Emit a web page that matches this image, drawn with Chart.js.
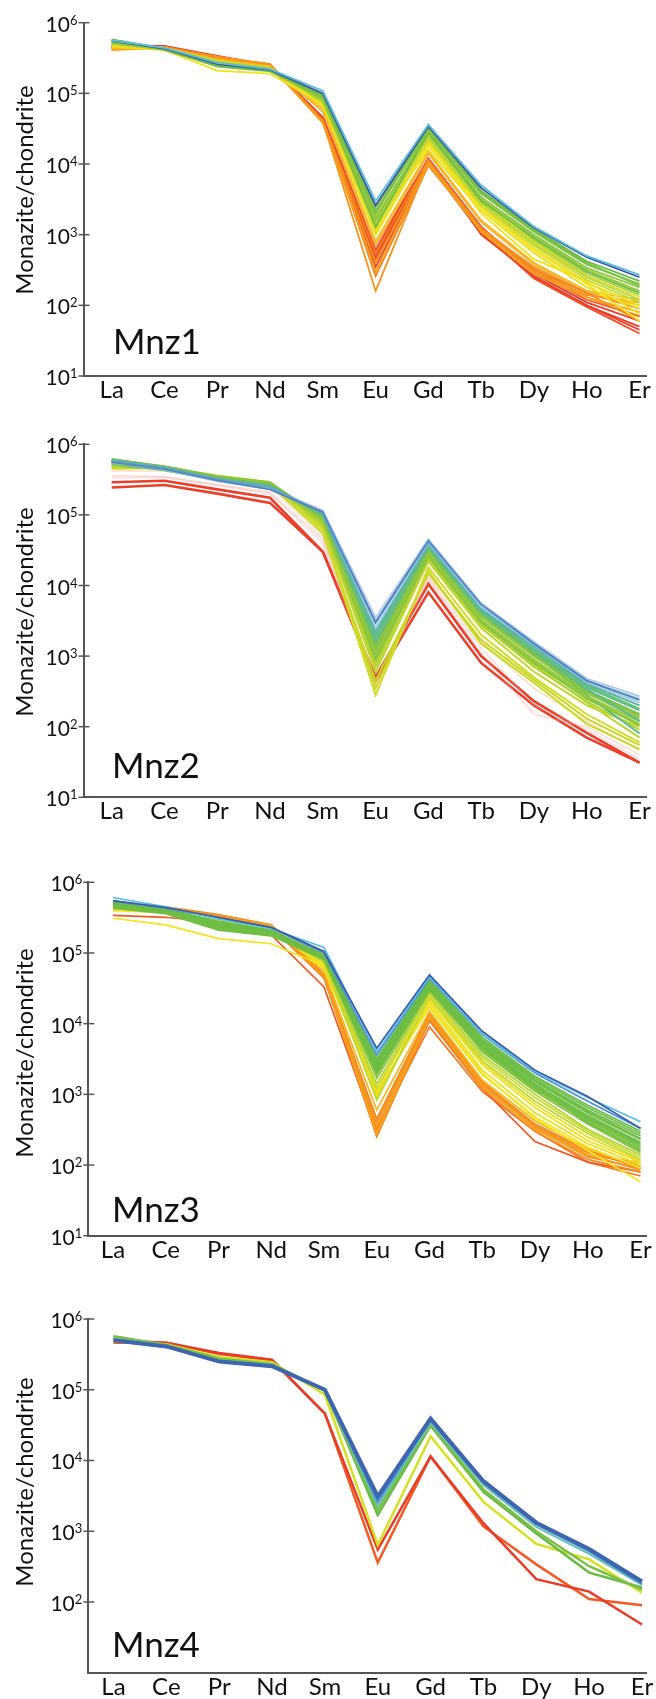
<!DOCTYPE html>
<html><head><meta charset="utf-8">
<script src="https://cdn.jsdelivr.net/npm/chart.js@4.4.1/dist/chart.umd.min.js"></script>
<style>
html,body{margin:0;padding:0;background:#fff;width:656px;height:1699px;overflow:hidden}
canvas{position:absolute;left:0}
</style></head><body>
<canvas id="c1" width="656" height="420" style="top:0px"></canvas>
<canvas id="c2" width="656" height="440" style="top:420px"></canvas>
<canvas id="c3" width="656" height="436" style="top:860px"></canvas>
<canvas id="c4" width="656" height="403" style="top:1296px"></canvas>
<script>
// ---------- data ----------
const elements = ['La','Ce','Pr','Nd','Sm','Eu','Gd','Tb','Dy','Ho','Er'];
const decadeTicks = [1e1,1e2,1e3,1e4,1e5,1e6];
const decadeExponents = ['1','2','3','4','5','6'];
const panelNames = ['Mnz1','Mnz2','Mnz3','Mnz4'];
const yAxisTitle = 'Monazite/chondrite';

// Mnz1 (La..Er)
const mnz1Values = [
  [5.6e5,4.4e5,2.7e5,2.2e5,1.08e5,3.0e3,3.6e4,5.0e3,1.3e3,5.0e2,2.7e2],
  [5.5e5,4.3e5,2.6e5,2.15e5,1.0e5,2.6e3,3.4e4,4.6e3,1.25e3,4.8e2,2.5e2],
  [5.8e5,4.3e5,2.5e5,2.1e5,9.5e4,2.5e3,3.5e4,4.2e3,1.2e3,4.2e2,2.2e2],
  [5.5e5,4.3e5,2.55e5,2.15e5,9.2e4,2.2e3,3.3e4,4.0e3,1.15e3,4.0e2,1.9e2],
  [5.6e5,4.2e5,2.4e5,2.05e5,9.0e4,2.0e3,3.2e4,3.8e3,1.1e3,3.8e2,2.0e2],
  [5.4e5,4.1e5,2.45e5,2.1e5,8.5e4,1.6e3,3.0e4,3.4e3,1.0e3,3.4e2,1.8e2],
  [5.7e5,4.3e5,2.6e5,2.2e5,8.8e4,1.3e3,2.8e4,3.0e3,9.0e2,3.0e2,1.5e2],
  [5.1e5,4.2e5,2.65e5,2.2e5,8.2e4,1.7e3,2.7e4,3.3e3,9.5e2,3.2e2,1.6e2],
  [5.2e5,4.3e5,2.7e5,2.2e5,8.0e4,1.8e3,2.6e4,3.2e3,8.5e2,2.8e2,1.4e2],
  [5.0e5,4.2e5,2.8e5,2.25e5,7.5e4,1.5e3,2.4e4,2.8e3,7.5e2,2.5e2,1.2e2],
  [4.9e5,4.3e5,2.75e5,2.25e5,7.8e4,1.3e3,2.3e4,2.9e3,8.0e2,2.6e2,1.3e2],
  [5.3e5,4.4e5,2.9e5,2.3e5,8.0e4,1.2e3,2.2e4,2.6e3,7.0e2,2.3e2,1.1e2],
  [4.7e5,4.4e5,2.8e5,2.3e5,7.2e4,1.0e3,2.0e4,2.5e3,6.5e2,2.1e2,1.0e2],
  [4.6e5,4.1e5,2.1e5,1.9e5,7.0e4,1.0e3,2.0e4,2.0e3,4.5e2,2.2e2,7.5e1],
  [4.8e5,4.3e5,2.9e5,2.3e5,7.0e4,1.1e3,1.8e4,2.4e3,6.0e2,2.0e2,6.0e1],
  [5.0e5,4.4e5,2.6e5,2.2e5,6.5e4,1.4e3,1.6e4,2.2e3,5.5e2,1.8e2,9.0e1],
  [4.3e5,4.3e5,3.0e5,2.4e5,6.0e4,8.0e2,1.5e4,1.6e3,4.0e2,1.6e2,1.0e2],
  [4.5e5,4.4e5,3.0e5,2.4e5,5.5e4,7.0e2,1.4e4,1.5e3,3.8e2,1.6e2,1.2e2],
  [4.2e5,4.5e5,3.2e5,2.6e5,4.0e4,4.0e2,1.1e4,1.2e3,3.0e2,1.4e2,1.1e2],
  [4.1e5,4.4e5,3.1e5,2.5e5,3.8e4,3.0e2,1.0e4,1.1e3,2.8e2,1.3e2,8.0e1],
  [4.3e5,4.5e5,3.1e5,2.55e5,4.2e4,2.6e2,9.5e3,1.15e3,3.2e2,1.5e2,9.0e1],
  [4.4e5,4.4e5,3.3e5,2.6e5,4.0e4,1.6e2,1.05e4,1.2e3,3.5e2,1.5e2,6.0e1],
  [4.4e5,4.6e5,3.3e5,2.5e5,4.2e4,5.5e2,1.15e4,1.25e3,3.3e2,1.3e2,7.0e1],
  [4.8e5,4.7e5,3.4e5,2.5e5,4.5e4,6.0e2,1.2e4,1.3e3,2.8e2,1.1e2,6.0e1],
  [4.7e5,4.6e5,3.3e5,2.4e5,4.3e4,5.0e2,1.1e4,1.1e3,2.4e2,9.5e1,4.0e1],
  [4.6e5,4.6e5,3.3e5,2.45e5,4.6e4,7.0e2,1.15e4,1.0e3,2.6e2,1.0e2,5.0e1],
  [4.6e5,4.5e5,3.2e5,2.45e5,4.1e4,3.5e2,1.0e4,1.05e3,2.5e2,1.0e2,4.5e1],
  [4.5e5,4.5e5,3.2e5,2.4e5,4.4e4,4.5e2,1.05e4,1.2e3,3.0e2,1.2e2,7.0e1]
];
const mnz1Colors = ['#5bbcd8','#3b58a7','#6cbd45','#7cc242','#76c043','#8cc63f','#6cbd45','#9bcb3b','#a6cd3a','#b5d334','#d9df24','#c7d92e',
  '#eee01e','#f2e21c','#f4e31a','#e9de22','#f9b81b','#fbb040','#f7941d','#f8a21c','#f58220','#f7941d','#f47b20','#e8382a','#ee4e24','#e8402a','#ef4136','#f15a24'];

// Mnz2
const mnz2Values = [
  [5.8e5,4.6e5,3.2e5,2.4e5,1.15e5,3.5e3,4.5e4,5.6e3,1.6e3,4.8e2,2.7e2],
  [5.6e5,4.5e5,3.1e5,2.3e5,1.1e5,3.0e3,4.3e4,5.4e3,1.5e3,4.5e2,2.4e2],
  [5.5e5,4.4e5,3.0e5,2.3e5,1.1e5,2.6e3,4.0e4,5.0e3,1.45e3,4.4e2,2.5e2],
  [5.6e5,4.5e5,3.2e5,2.5e5,1.05e5,2.4e3,3.9e4,4.9e3,1.4e3,4.2e2,2.2e2],
  [6.0e5,4.7e5,3.2e5,2.5e5,1.05e5,2.2e3,3.8e4,4.6e3,1.35e3,4.0e2,2.0e2],
  [5.8e5,4.7e5,3.3e5,2.6e5,1.0e5,2.0e3,3.6e4,4.4e3,1.25e3,3.8e2,1.8e2],
  [5.7e5,4.6e5,3.3e5,2.6e5,1.0e5,1.8e3,3.5e4,4.2e3,1.2e3,3.6e2,1.7e2],
  [5.9e5,4.7e5,3.3e5,2.6e5,9.8e4,1.6e3,3.4e4,4.1e3,1.15e3,3.4e2,1.2e2],
  [6.2e5,4.8e5,3.4e5,2.7e5,9.5e4,1.5e3,3.3e4,4.0e3,1.1e3,3.3e2,1.5e2],
  [5.5e5,4.6e5,3.4e5,2.7e5,9.2e4,1.4e3,3.2e4,3.8e3,1.05e3,3.2e2,1.4e2],
  [5.9e5,4.7e5,3.3e5,2.8e5,9.0e4,1.3e3,3.0e4,3.6e3,1.0e3,3.0e2,1.3e2],
  [5.4e5,4.5e5,3.4e5,2.8e5,8.5e4,1.1e3,2.8e4,3.3e3,9.0e2,2.7e2,1.2e2],
  [6.1e5,4.9e5,3.5e5,2.9e5,8.8e4,9.0e2,2.6e4,3.0e3,8.0e2,2.5e2,1.05e2],
  [5.2e5,4.3e5,3.1e5,2.5e5,9.5e4,1.2e3,3.1e4,3.8e3,1.05e3,2.8e2,8.0e1],
  [5.3e5,4.6e5,3.5e5,2.8e5,8.0e4,1.0e3,2.7e4,3.2e3,8.5e2,2.6e2,1.1e2],
  [5.0e5,4.8e5,3.6e5,2.9e5,7.5e4,8.0e2,2.4e4,2.8e3,7.0e2,2.3e2,9.0e1],
  [5.0e5,4.5e5,3.4e5,2.7e5,7.2e4,7.0e2,2.3e4,2.7e3,7.5e2,2.2e2,7.0e1],
  [4.7e5,4.7e5,3.5e5,2.8e5,7.0e4,6.0e2,2.2e4,2.5e3,6.0e2,2.0e2,1.0e2],
  [4.5e5,4.6e5,3.6e5,2.9e5,6.0e4,2.8e2,1.8e4,2.0e3,5.0e2,1.5e2,6.0e1],
  [4.6e5,4.6e5,3.5e5,2.8e5,6.5e4,3.5e2,1.6e4,1.5e3,4.2e2,1.1e2,4.8e1],
  [4.8e5,4.7e5,3.4e5,2.7e5,5.5e4,4.5e2,1.5e4,1.7e3,4.6e2,1.3e2,5.5e1],
  [4.2e5,4.2e5,3.2e5,2.5e5,5.0e4,4.0e2,1.4e4,1.6e3,3.5e2,1.2e2,4.5e1],
  [3.4e5,3.4e5,2.6e5,2.0e5,4.0e4,3.5e2,1.2e4,1.1e3,1.5e2,1.0e2,4.0e1],
  [3.6e5,3.5e5,2.7e5,2.1e5,4.5e4,4.0e2,1.3e4,1.3e3,2.0e2,9.0e1,3.5e1],
  [2.9e5,3.05e5,2.3e5,1.75e5,3.0e4,5.0e2,1.05e4,1.0e3,2.3e2,8.2e1,3.1e1],
  [2.45e5,2.65e5,2.0e5,1.48e5,3.0e4,4.5e2,8.0e3,8.0e2,2.0e2,7.0e1,3.1e1]
];
const mnz2Colors = ['rgba(110,160,210,0.55)','#4d7fbf','rgba(150,200,220,0.7)','rgba(100,170,200,0.6)','#55b6a6','#6cbf6a','#5dbb9a',
  '#60bb8c','#7dc243','#8dc63f','#8cc63f','#96c93d','#85c441','#5dbb8f','#a3cd39','#b2d235','#b9d433','#bfd630','#d2dc26','#cbd626','#c5d82a',
  'rgba(245,160,80,0.35)','rgba(240,150,140,0.35)','rgba(240,150,140,0.35)','#e8402a','#e8402a'];
const mnz2Widths = [2,2,2,2,2,2,2,2,2,2,2,2,2,2,2,2,2,2,2,2,2,1.5,1.5,1.5,2.6,2.6];

// Mnz3
const mnz3Values = [
  [5.5e5,4.4e5,3.2e5,2.3e5,1.05e5,4.5e3,4.9e4,7.8e3,2.2e3,9.3e2,3.3e2],
  [6.1e5,4.5e5,3.0e5,2.2e5,1.2e5,4.0e3,4.6e4,7.2e3,2.1e3,9.0e2,4.1e2],
  [5.4e5,4.3e5,3.1e5,2.25e5,1.0e5,3.6e3,4.4e4,7.0e3,2.0e3,8.0e2,3.3e2],
  [5.3e5,4.2e5,2.8e5,2.1e5,9.5e4,3.2e3,4.1e4,6.4e3,1.8e3,7.0e2,3.0e2],
  [5.1e5,4.1e5,2.7e5,2.05e5,9.3e4,3.0e3,3.9e4,6.0e3,1.7e3,6.5e2,2.8e2],
  [5.0e5,4.0e5,2.5e5,2.0e5,9.0e4,2.8e3,3.8e4,5.8e3,1.6e3,6.0e2,2.6e2],
  [4.9e5,3.9e5,2.4e5,1.95e5,8.7e4,2.6e3,3.6e4,5.5e3,1.55e3,5.7e2,2.4e2],
  [4.7e5,3.8e5,2.3e5,1.9e5,8.5e4,2.5e3,3.5e4,5.2e3,1.5e3,5.4e2,2.3e2],
  [4.6e5,3.75e5,2.25e5,1.85e5,8.6e4,2.3e3,3.4e4,5.0e3,1.4e3,5.0e2,2.1e2],
  [4.5e5,3.7e5,2.2e5,1.8e5,8.8e4,2.2e3,3.3e4,4.8e3,1.35e3,4.8e2,2.0e2],
  [4.4e5,3.65e5,2.15e5,1.78e5,8.2e4,2.1e3,3.1e4,4.6e3,1.28e3,4.6e2,1.9e2],
  [4.3e5,3.6e5,2.1e5,1.75e5,8.0e4,2.0e3,3.0e4,4.4e3,1.2e3,4.4e2,1.8e2],
  [4.8e5,3.9e5,2.4e5,1.95e5,9.2e4,2.4e3,3.6e4,4.6e3,1.25e3,4.0e2,1.6e2],
  [4.7e5,3.85e5,2.35e5,1.9e5,8.3e4,1.7e3,2.9e4,4.2e3,1.15e3,4.2e2,1.7e2],
  [5.2e5,4.1e5,2.6e5,2.05e5,9.0e4,1.9e3,3.2e4,4.0e3,1.1e3,3.8e2,1.5e2],
  [4.6e5,3.9e5,2.6e5,2.1e5,8.0e4,1.4e3,2.8e4,3.6e3,1.0e3,3.2e2,1.4e2],
  [4.5e5,3.8e5,2.5e5,2.0e5,7.8e4,1.2e3,2.6e4,3.3e3,9.0e2,3.0e2,1.3e2],
  [4.4e5,3.8e5,2.5e5,2.0e5,7.5e4,8.3e2,2.4e4,3.0e3,8.0e2,2.8e2,1.2e2],
  [4.3e5,3.9e5,2.6e5,2.1e5,7.2e4,9.0e2,2.3e4,2.8e3,7.2e2,2.5e2,1.15e2],
  [4.3e5,4.0e5,2.8e5,2.2e5,7.0e4,1.2e3,2.2e4,2.6e3,6.5e2,2.2e2,1.1e2],
  [4.2e5,3.9e5,2.7e5,2.2e5,6.5e4,1.0e3,2.0e4,2.2e3,5.5e2,2.0e2,1.0e2],
  [4.0e5,3.7e5,2.9e5,2.3e5,6.0e4,1.1e3,1.7e4,1.9e3,4.8e2,1.8e2,9.0e1],
  [3.1e5,2.5e5,1.6e5,1.35e5,6.5e4,1.0e3,1.8e4,2.0e3,4.5e2,1.6e2,5.8e1],
  [4.4e5,4.3e5,3.2e5,2.4e5,5.5e4,6.0e2,1.5e4,1.6e3,4.2e2,1.7e2,9.5e1],
  [4.4e5,4.4e5,3.4e5,2.45e5,4.9e4,4.0e2,1.35e4,1.45e3,3.6e2,1.5e2,1.0e2],
  [4.5e5,4.5e5,3.5e5,2.5e5,5.0e4,4.5e2,1.4e4,1.5e3,3.8e2,1.6e2,9.0e1],
  [4.3e5,4.3e5,3.3e5,2.4e5,4.7e4,2.8e2,1.25e4,1.35e3,3.2e2,1.35e2,1.1e2],
  [4.3e5,4.4e5,3.4e5,2.45e5,4.8e4,3.5e2,1.3e4,1.4e3,3.5e2,1.4e2,8.5e1],
  [4.4e5,4.4e5,3.3e5,2.4e5,4.5e4,3.0e2,1.2e4,1.3e3,3.3e2,1.3e2,9.0e1],
  [4.2e5,4.3e5,3.3e5,2.35e5,4.6e4,2.5e2,1.15e4,1.2e3,3.0e2,1.2e2,8.0e1],
  [3.4e5,3.2e5,2.7e5,1.8e5,3.3e4,2.8e2,1.1e4,1.2e3,2.15e2,1.1e2,8.0e1],
  [4.0e5,4.2e5,3.2e5,2.3e5,4.4e4,3.2e2,9.0e3,1.1e3,3.0e2,1.1e2,7.0e1]
];
const mnz3Colors = ['#3a5ba8','#5bbfe0','#4b8fcf','#6cbd45','#6cbd45','#6cbd45','#6cbd45','#72bf44','#70be45','#6cbd45','#6cbd45',
  '#78c143','#6cbd45','#8cc63f','#80c342','#b6d334','#c8da2b','#c0d72f','#e6df20','#f0e11c','#eadf1f','#f4e31a','#f6e21a',
  '#f7b51d','#f7941d','#f58220','#f8a51b','#f7931e','#f58a1f','#f68b1f','#ef5a24','#f47a20'];

// Mnz4
const mnz4Values = [
  [5.0e5,4.1e5,2.5e5,2.15e5,1.0e5,3.1e3,3.9e4,5.1e3,1.32e3,5.6e2,1.95e2],
  [5.0e5,4.0e5,2.55e5,2.2e5,9.8e4,2.6e3,3.7e4,4.8e3,1.25e3,5.2e2,1.8e2],
  [5.3e5,4.2e5,2.6e5,2.25e5,9.8e4,2.3e3,3.4e4,4.5e3,1.15e3,4.8e2,1.75e2],
  [5.6e5,4.25e5,2.7e5,2.3e5,9.6e4,2.0e3,3.2e4,3.9e3,1.0e3,3.2e2,1.5e2],
  [5.7e5,4.3e5,2.75e5,2.3e5,9.8e4,1.7e3,3.1e4,3.6e3,9.3e2,2.6e2,1.6e2],
  [4.8e5,4.4e5,2.9e5,2.45e5,8.5e4,6.4e2,2.2e4,2.6e3,6.6e2,4.0e2,1.35e2],
  [5.0e5,4.6e5,3.3e5,2.65e5,4.6e4,5.5e2,1.14e4,1.3e3,2.1e2,1.4e2,4.8e1],
  [4.6e5,4.6e5,3.2e5,2.6e5,4.6e4,3.6e2,1.14e4,1.17e3,3.4e2,1.1e2,9.0e1]
];
const mnz4Colors = ['#3f64b0','#4a90d0','#62c1b4','#79bf48','#6ab845','#d4e021','#e53d2a','#f15a24'];
const mnz4Widths = [4,2,2,2.5,2.5,2.5,2.5,2.5];

// ---------- layout (pixels) ----------
const layouts = [
  {id:'c1', h:420, top:22.7, bottom:376, left:83.5, right:646, xFirst:111.7, xLast:639.5, titleY:190, nameY:354, nameX:113, minLabel:true, lw:1.8},
  {id:'c2', h:440, top:24.3, bottom:377.3, left:83.5, right:646.5, xFirst:111.7, xLast:639.5, titleY:192, nameY:358, nameX:112, minLabel:true, lw:2},
  {id:'c3', h:436, top:22.3, bottom:375.7, left:88.3, right:646, xFirst:113, xLast:640.5, titleY:193, nameY:361.5, nameX:112, minLabel:true, lw:1.7},
  {id:'c4', h:403, top:23, bottom:376.7, left:88.3, right:646, xFirst:113.5, xLast:642, titleY:186, nameY:360.5, nameX:112, minLabel:false, lw:2.5}
];
const panelValues = [mnz1Values, mnz2Values, mnz3Values, mnz4Values];
const panelColors = [mnz1Colors, mnz2Colors, mnz3Colors, mnz4Colors];
const panelWidths = [null, mnz2Widths, null, mnz4Widths];

const FONT = 'Lato, "Open Sans", sans-serif';

const decorPlugin = {
  id: 'decor',
  afterDraw(chart, args, opts) {
    const ctx = chart.ctx, y = chart.scales.y, L = opts.L, idx = opts.idx;
    ctx.save();
    ctx.fillStyle = '#111';
    ctx.strokeStyle = '#555';
    ctx.lineWidth = 1.5;
    decadeTicks.forEach((v, i) => {
      if (!L.minLabel && i === 0) return;
      const py = y.getPixelForValue(v);
      ctx.beginPath();
      ctx.moveTo(L.left - 5, py); ctx.lineTo(L.left + 6, py);
      ctx.stroke();
      ctx.textBaseline = 'alphabetic';
      ctx.textAlign = 'right';
      ctx.font = '13px ' + FONT;
      const ex = L.left - 6;
      ctx.fillText(decadeExponents[i], ex, py + 2);
      const ew = ctx.measureText(decadeExponents[i]).width;
      ctx.font = '21px ' + FONT;
      ctx.fillText('10', ex - ew, py + 9);
    });
    ctx.save();
    ctx.translate(33, L.titleY);
    ctx.rotate(-Math.PI / 2);
    ctx.textAlign = 'center';
    ctx.textBaseline = 'alphabetic';
    ctx.font = '24px ' + FONT;
    ctx.fillText(yAxisTitle, 0, 0);
    ctx.restore();
    ctx.textAlign = 'left';
    ctx.textBaseline = 'alphabetic';
    ctx.font = '35px ' + FONT;
    ctx.fillText(panelNames[idx], L.nameX, L.nameY);
    ctx.restore();
  }
};

layouts.forEach((L, idx) => {
  const span = L.xLast - L.xFirst;
  const xMin = -10 * (L.xFirst - L.left) / span;
  const xMax = 10 + 10 * (L.right - L.xLast) / span;
  const vals = panelValues[idx], cols = panelColors[idx], wds = panelWidths[idx];
  const datasets = vals.map((row, k) => ({
    data: row.map((v, i) => ({x: i, y: v})),
    borderColor: cols[k],
    borderWidth: wds ? wds[k] : L.lw,
    pointRadius: 0,
    fill: false,
    tension: 0
  }));
  new Chart(document.getElementById(L.id), {
    type: 'line',
    data: {datasets},
    plugins: [decorPlugin],
    options: {
      responsive: false,
      animation: false,
      devicePixelRatio: 1,
      events: [],
      layout: {padding: {top: L.top, left: 0, right: 656 - L.right, bottom: 0}},
      plugins: {legend: {display: false}, tooltip: {enabled: false}, decor: {L, idx}},
      scales: {
        x: {
          type: 'linear', min: xMin, max: xMax,
          afterBuildTicks: s => { s.ticks = elements.map((_, i) => ({value: i})); },
          afterFit: s => { s.height = L.h - L.bottom; },
          ticks: {autoSkip: false, maxRotation: 0, color: '#111', padding: 0,
                  font: {family: FONT, size: 24},
                  callback: v => elements[v] ?? ''},
          grid: {display: false, drawTicks: false},
          border: {display: true, color: '#555', width: 2}
        },
        y: {
          type: 'logarithmic', min: 10, max: 1e6,
          afterBuildTicks: s => { s.ticks = decadeTicks.map(v => ({value: v})); },
          afterFit: s => { s.width = L.left; },
          ticks: {display: false},
          grid: {display: false, drawTicks: false},
          border: {display: true, color: '#555', width: 2}
        }
      }
    }
  });
});
</script>
</body></html>
